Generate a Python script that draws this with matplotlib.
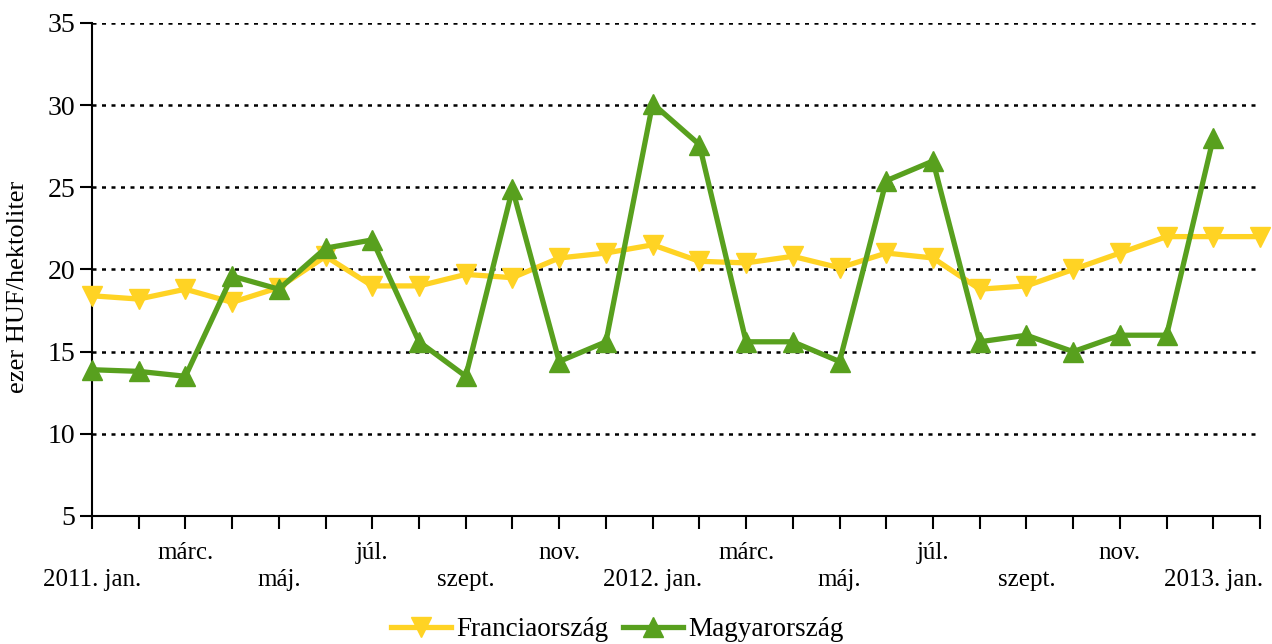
import numpy as np
import matplotlib
matplotlib.use('Agg')
import matplotlib.pyplot as plt

plt.rcParams['font.family'] = ['Liberation Serif', 'DejaVu Serif']

# havi adatok 2011. jan. - 2013. febr.
month_labels = ['2011. jan.', '', 'márc.', '', 'máj.', '', 'júl.', '', 'szept.', '', 'nov.', '',
                '2012. jan.', '', 'márc.', '', 'máj.', '', 'júl.', '', 'szept.', '', 'nov.', '',
                '2013. jan.', '']
francia = [18.4, 18.2, 18.8, 18.0, 18.9, 20.8, 19.0, 19.0, 19.7, 19.5, 20.7, 21.0, 21.5,
           20.5, 20.4, 20.8, 20.1, 21.0, 20.7, 18.8, 19.0, 20.0, 21.0, 22.0, 22.0, 22.0]
magyar = [13.9, 13.8, 13.5, 19.6, 18.8, 21.3, 21.8, 15.6, 13.5, 24.9, 14.4, 15.6, 30.1,
          27.6, 15.6, 15.6, 14.4, 25.4, 26.6, 15.6, 16.0, 15.0, 16.0, 16.0, 28.0]

yellow = '#FFD324'
green = '#58A01E'

fig = plt.figure(figsize=(12.72, 6.44), dpi=100)
ax = fig.add_axes([0.0723, 0.1988, 0.9183, 0.7655])

x = np.arange(len(francia))
ax.plot(x, francia, c=yellow, lw=3.8, marker='v', markersize=14, label='Franciaország', clip_on=False, zorder=3)
ax.plot(np.arange(len(magyar)), magyar, c=green, lw=3.8, marker='^', markersize=14, label='Magyarország', clip_on=False, zorder=4)

ax.set_xlim(0, 25)
ax.set_ylim(5, 35)
ax.set_yticks(range(5, 36, 5))
ax.set_xticks(x)
lbls = []
for i, l in enumerate(month_labels):
    if l == '':
        lbls.append('')
    elif (i // 2) % 2 == 0:
        lbls.append('\n' + l)
    else:
        lbls.append(l)
ax.set_xticklabels(lbls, fontsize=18, linespacing=1.3)
ax.tick_params(axis='y', labelsize=20, direction='out', length=9, width=1.5, pad=3)
ax.tick_params(axis='x', direction='out', length=9, width=1.5, pad=10)

for s in ['top', 'right']:
    ax.spines[s].set_visible(False)
ax.spines['left'].set_linewidth(1.5)
ax.spines['bottom'].set_linewidth(1.5)
ax.yaxis.grid(True, color='black', linestyle=(0, (1.6, 2.2)), linewidth=1.8)
ax.set_axisbelow(True)

ax.set_ylabel('ezer HUF/hektoliter', fontsize=19, va='center')
ax.yaxis.set_label_coords(-0.063, 0.464)

fig.legend(loc='lower center', bbox_to_anchor=(0.4855, -0.035), ncol=2, frameon=False, fontsize=19.5,
           handlelength=2.2, columnspacing=0.55, handletextpad=0.2)

plt.savefig('out.png', dpi=100)
